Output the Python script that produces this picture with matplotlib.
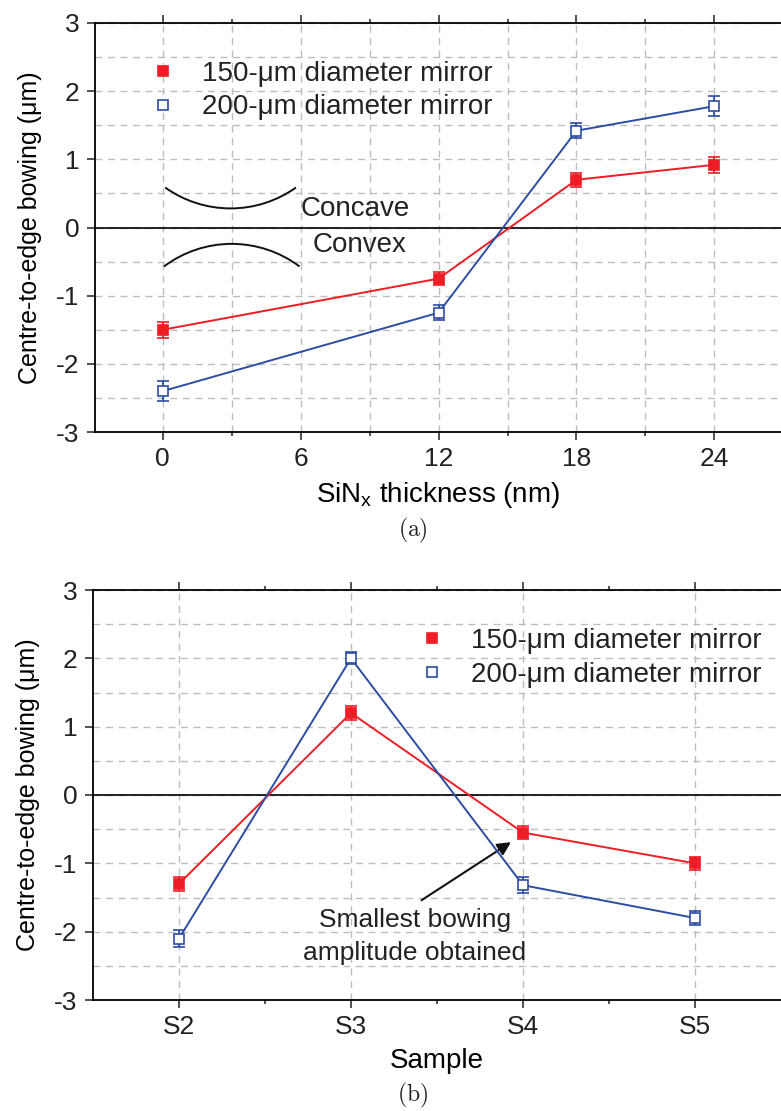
import matplotlib
matplotlib.use("Agg")
import numpy as np
import matplotlib.pyplot as plt
from matplotlib.lines import Line2D
from matplotlib.patches import Arc
from matplotlib.ticker import MultipleLocator, FixedLocator

plt.rcParams['font.family'] = ['Liberation Sans', 'DejaVu Sans']

# ---- data: panel (a) ----
thickness = [0, 12, 18, 24]
bow150_a = [-1.50, -0.75, 0.70, 0.92]
err150_a = [0.12, 0.10, 0.10, 0.12]
bow200_a = [-2.40, -1.25, 1.42, 1.78]
err200_a = [0.15, 0.11, 0.11, 0.15]

# ---- data: panel (b) ----
samples = ['S2', 'S3', 'S4', 'S5']
bow150_b = [-1.30, 1.20, -0.55, -1.00]
err150_b = [0.10, 0.10, 0.09, 0.10]
bow200_b = [-2.10, 2.00, -1.32, -1.80]
err200_b = [0.12, 0.09, 0.12, 0.10]

label150 = '150-\u03bcm diameter mirror'
label200 = '200-\u03bcm diameter mirror'

RED = '#EE1C25'
BLUE = '#2D4DA2'
GRID = '#BDBDBD'
FS = 19

W, H = 781, 1111
fig = plt.figure(figsize=(W / 100, H / 100), dpi=100)


def fx(px):
    return px / W


def fy(py):
    return 1 - py / H


def style_axes(ax):
    ax.spines['right'].set_visible(False)
    for s in ('left', 'top', 'bottom'):
        ax.spines[s].set_linewidth(1.3)
    ax.tick_params(which='both', direction='out', top=True, right=False,
                   labelsize=FS, width=1.1, colors='#222222')
    ax.tick_params(which='major', length=6, pad=5)
    ax.tick_params(which='minor', length=3)
    ax.tick_params(axis='y', which='minor', length=0)
    ax.set_ylim(-3, 3)
    ax.yaxis.set_major_locator(MultipleLocator(1))
    ax.yaxis.set_minor_locator(MultipleLocator(0.5))
    ax.set_yticks([-3, -2, -1, 0, 1, 2, 3])
    ax.set_yticklabels(['-3', '-2', '-1', '0', '1', '2', '3'])
    ax.set_axisbelow(True)
    ax.axhline(0, color='#111111', lw=1.3, zorder=2)
    ax.set_ylabel('Centre-to-edge bowing (\u03bcm)', fontsize=FS - 1, labelpad=10)


def draw_series(ax, x, y, e, color, face):
    ax.errorbar(x, y, yerr=e, color=color, lw=1.4, marker='s', ms=7.5,
                mfc=face, mec=color, mew=1.2, elinewidth=1.3,
                capsize=4, capthick=1.3, zorder=4)


def add_legend(ax, px, py):
    handles = [
        Line2D([], [], ls='none', marker='s', ms=7.5, mfc=RED, mec=RED, mew=1.2),
        Line2D([], [], ls='none', marker='s', ms=7.5, mfc='white', mec=BLUE, mew=1.2),
    ]
    ax.legend(handles, [label150, label200], loc='upper left',
              bbox_to_anchor=(fx(px), fy(py)), bbox_transform=fig.transFigure,
              frameon=False, fontsize=FS + 1, handlelength=1.0,
              handletextpad=0.9, labelspacing=0.27, borderpad=0,
              borderaxespad=0, labelcolor='#222222')


def curve(ax, center, rx, ry, mid_deg, half_deg):
    """Elliptical arc in data units spanning +/- half_deg (parametric) around mid_deg."""
    geo = []
    for p in (mid_deg - half_deg, mid_deg + half_deg):
        t = np.radians(p)
        geo.append(np.degrees(np.arctan2(ry * np.sin(t), rx * np.cos(t))) % 360)
    t1, t2 = geo
    if t2 < t1:
        t2 += 360
    ax.add_patch(Arc(center, 2 * rx, 2 * ry, theta1=t1, theta2=t2,
                     color='#111111', lw=1.4, zorder=3))


# ================= panel (a) =================
axa = fig.add_axes([fx(95), fy(432), 1 - fx(95), fy(23) - fy(432)])
style_axes(axa)
axa.set_xlim(-2.95, 26.9)
axa.xaxis.set_major_locator(FixedLocator([0, 6, 12, 18, 24]))
axa.xaxis.set_minor_locator(FixedLocator([3, 9, 15, 21]))
axa.grid(True, which='both', color=GRID, ls=(0, (5, 4)), lw=1.0)

draw_series(axa, thickness, bow150_a, err150_a, RED, RED)
draw_series(axa, thickness, bow200_a, err200_a, BLUE, 'white')

axa.set_xlabel(r'SiN$_{\mathregular{x}}$ thickness (nm)', fontsize=FS + 1, labelpad=6)
add_legend(axa, 149, 61)

# concave / convex sketches
rx, ry = 4.9, 1.65
curve(axa, (2.95, 0.28 + ry), rx, ry, 270, 35.5)
curve(axa, (3.0, -0.24 - ry), rx, ry, 90, 37.0)
axa.text(6.0, 0.27, 'Concave', fontsize=FS + 1, va='center', ha='left', color='#222222')
axa.text(6.5, -0.25, 'Convex', fontsize=FS + 1, va='center', ha='left', color='#222222')

fig.text(fx(413), fy(530), r'$(\mathrm{a})$', math_fontfamily='cm',
         fontsize=17, ha='center', va='center', color='#222222')

# ================= panel (b) =================
axb = fig.add_axes([fx(93), fy(1000), 1 - fx(93), fy(590) - fy(1000)])
style_axes(axb)
xb = list(range(len(samples)))
axb.set_xlim(-0.5, 3.5)
axb.xaxis.set_major_locator(FixedLocator(xb))
axb.xaxis.set_minor_locator(FixedLocator([0.5, 1.5, 2.5]))
axb.set_xticklabels(samples)
axb.grid(True, which='major', axis='x', color=GRID, ls=(0, (5, 4)), lw=1.0)
axb.grid(True, which='both', axis='y', color=GRID, ls=(0, (5, 4)), lw=1.0)

draw_series(axb, xb, bow150_b, err150_b, RED, RED)
draw_series(axb, xb, bow200_b, err200_b, BLUE, 'white')

axb.set_xlabel('Sample', fontsize=FS + 1, labelpad=6)
add_legend(axb, 418, 628)

axb.text(1.37, -2.07, 'Smallest bowing\namplitude obtained', ha='center',
         va='center', fontsize=FS, color='#222222', linespacing=1.5)
axb.annotate('', xy=(1.93, -0.69), xytext=(1.41, -1.54),
             arrowprops=dict(arrowstyle='-|>', color='#111111', lw=1.5,
                             mutation_scale=20, shrinkA=0, shrinkB=0))

fig.text(fx(413), fy(1095), r'$(\mathrm{b})$', math_fontfamily='cm',
         fontsize=17, ha='center', va='center', color='#222222')

fig.savefig('out.png', dpi=100)
